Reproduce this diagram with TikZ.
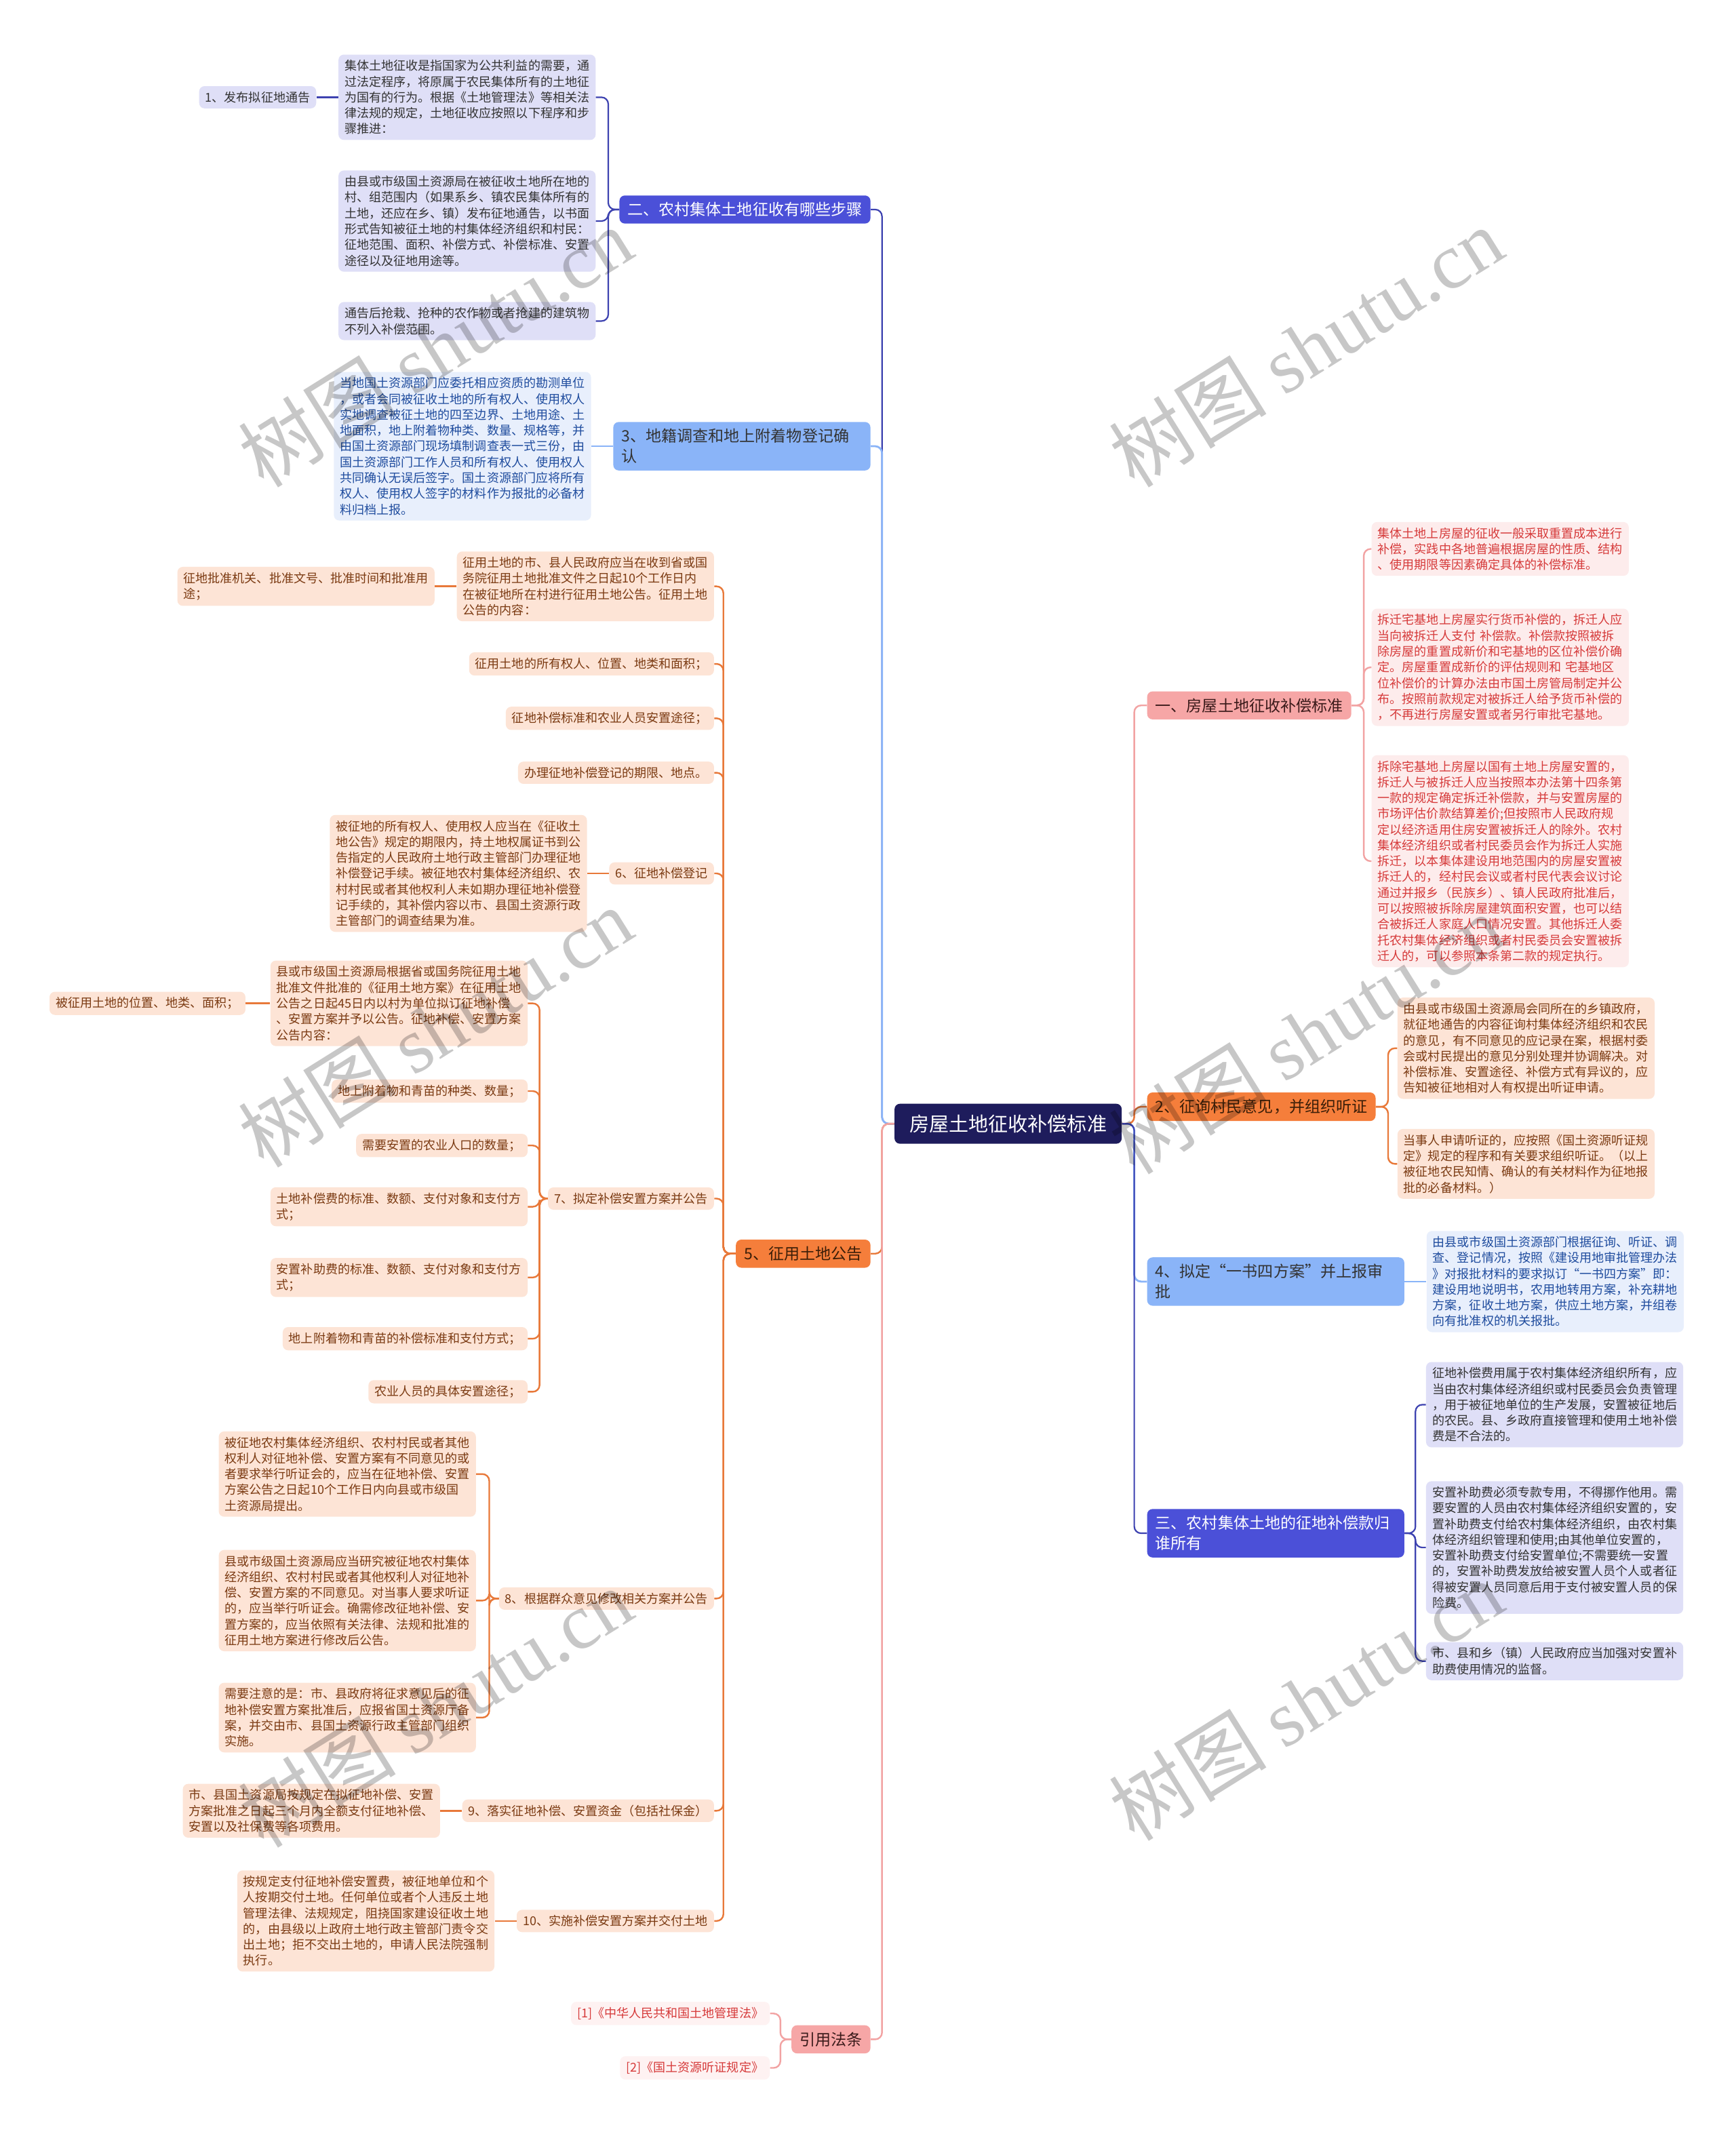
\documentclass[tikz,border=0pt]{standalone}
\usepackage{fontspec}
\setmainfont{Noto Sans CJK SC}
\newfontfamily\wmserif{Liberation Serif}
\usetikzlibrary{positioning}

\definecolor{rootc}{HTML}{1E1C5C}
\definecolor{purplec}{HTML}{4B50D8}
\definecolor{purplelc}{HTML}{3D42B0}
\definecolor{lavfill}{HTML}{DFDFF7}
\definecolor{bluec}{HTML}{8AB4F8}
\definecolor{bluefill}{HTML}{E8EFFC}
\definecolor{bluetext}{HTML}{1F4C9E}
\definecolor{orangec}{HTML}{F57E3B}
\definecolor{orangelc}{HTML}{E8793A}
\definecolor{peachfill}{HTML}{FDE4D6}
\definecolor{browntext}{HTML}{7B3A12}
\definecolor{darkbrown}{HTML}{3B1E08}
\definecolor{pinkc}{HTML}{F6A6A6}
\definecolor{pinklc}{HTML}{F2A3A3}
\definecolor{pinkfill}{HTML}{FDECEC}
\definecolor{redtext}{HTML}{D63A3A}
\definecolor{darkred}{HTML}{3A1A1A}
\definecolor{darktext}{HTML}{333333}

\newcommand{\leafsize}{\fontsize{9pt}{11.6pt}\selectfont}
\newcommand{\branchsize}{\fontsize{11.5pt}{15pt}\selectfont}
\newcommand{\rootsize}{\fontsize{14.5pt}{17pt}\selectfont}
\newcommand{\wmsize}{\fontsize{58pt}{58pt}\selectfont}

\begin{document}
\begin{tikzpicture}[x=1pt,y=-1pt]

\tikzstyle{rootnode}=[rectangle,rounded corners=4pt,fill=rootc,text=white,inner xsep=11pt,inner ysep=8pt,font=\rootsize]
\tikzstyle{topnode}=[rectangle,rounded corners=4pt,inner xsep=6pt,inner ysep=5pt,font=\branchsize,align=left]
\tikzstyle{twoline}=[text width=177pt]
\tikzstyle{purplenode}=[topnode,fill=purplec,text=white]
\tikzstyle{bluenode}=[topnode,fill=bluec,text=darktext]
\tikzstyle{orangenode}=[topnode,fill=orangec,text=darkbrown]
\tikzstyle{pinknode}=[topnode,fill=pinkc,text=darkred]
\tikzstyle{leaf}=[rectangle,rounded corners=4pt,inner xsep=4.5pt,inner ysep=4pt,font=\leafsize,align=left]
\tikzstyle{wideleaf}=[text width=180pt]
\tikzstyle{lavleaf}=[leaf,fill=lavfill,text=darktext]
\tikzstyle{blueleaf}=[leaf,fill=bluefill,text=bluetext]
\tikzstyle{peachleaf}=[leaf,fill=peachfill,text=browntext]
\tikzstyle{pinkleaf}=[leaf,fill=pinkfill,text=redtext]
\tikzstyle{purpleline}=[draw=purplelc,line width=1.1pt,rounded corners=5pt]
\tikzstyle{blueline}=[draw=bluec,line width=1.4pt,rounded corners=5pt]
\tikzstyle{orangeline}=[draw=orangelc,line width=1.2pt,rounded corners=5pt]
\tikzstyle{pinkline}=[draw=pinklc,line width=1.2pt,rounded corners=5pt]
\tikzstyle{wmark}=[rotate=32,text=black,opacity=0.22,font=\wmsize]

\fill[white] (0,0) rectangle (1276,1568.6);
\useasboundingbox (0,0) rectangle (1276,1568.6);

% root
\node [rootnode] (root) at (741,826) {房屋土地征收补偿标准};

% right side
\node [pinknode,anchor=west] (b1) at (843,518.5) {一、房屋土地征收补偿标准};
\node [orangenode,anchor=west] (b2) at (843,813.5) {2、征询村民意见，并组织听证};
\node [bluenode,twoline,anchor=west] (b4) at (843,942) {4、拟定“一书四方案”并上报审\\批};
\node [purplenode,twoline,anchor=west] (b3) at (843,1127) {三、农村集体土地的征地补偿款归\\谁所有};

\node [pinkleaf,wideleaf,anchor=west] (p1) at (1008,403.5) {集体土地上房屋的征收一般采取重置成本进行\\补偿，实践中各地普遍根据房屋的性质、结构\\、使用期限等因素确定具体的补偿标准。};
\node [pinkleaf,wideleaf,anchor=west] (p2) at (1008,490.5) {拆迁宅基地上房屋实行货币补偿的，拆迁人应\\当向被拆迁人支付 补偿款。补偿款按照被拆\\除房屋的重置成新价和宅基地的区位补偿价确\\定。房屋重置成新价的评估规则和 宅基地区\\位补偿价的计算办法由市国土房管局制定并公\\布。按照前款规定对被拆迁人给予货币补偿的\\，不再进行房屋安置或者另行审批宅基地。};
\node [pinkleaf,wideleaf,anchor=west] (p3) at (1008,633) {拆除宅基地上房屋以国有土地上房屋安置的，\\拆迁人与被拆迁人应当按照本办法第十四条第\\一款的规定确定拆迁补偿款，并与安置房屋的\\市场评估价款结算差价;但按照市人民政府规\\定以经济适用住房安置被拆迁人的除外。农村\\集体经济组织或者村民委员会作为拆迁人实施\\拆迁，以本集体建设用地范围内的房屋安置被\\拆迁人的，经村民会议或者村民代表会议讨论\\通过并报乡（民族乡）、镇人民政府批准后，\\可以按照被拆除房屋建筑面积安置，也可以结\\合被拆迁人家庭人口情况安置。其他拆迁人委\\托农村集体经济组织或者村民委员会安置被拆\\迁人的，可以参照本条第二款的规定执行。};

\node [peachleaf,wideleaf,anchor=west] (q1) at (1027,770.5) {由县或市级国土资源局会同所在的乡镇政府，\\就征地通告的内容征询村集体经济组织和农民\\的意见，有不同意见的应记录在案，根据村委\\会或村民提出的意见分别处理并协调解决。对\\补偿标准、安置途径、补偿方式有异议的，应\\告知被征地相对人有权提出听证申请。};
\node [peachleaf,wideleaf,anchor=west] (q2) at (1027,855.5) {当事人申请听证的，应按照《国土资源听证规\\定》规定的程序和有关要求组织听证。（以上\\被征地农民知情、确认的有关材料作为征地报\\批的必备材料。）};

\node [blueleaf,wideleaf,anchor=west] (r1) at ([xshift=16pt]b4.east) {由县或市级国土资源部门根据征询、听证、调\\查、登记情况，按照《建设用地审批管理办法\\》对报批材料的要求拟订“一书四方案”即：\\建设用地说明书，农用地转用方案，补充耕地\\方案，征收土地方案，供应土地方案，并组卷\\向有批准权的机关报批。};

\node [lavleaf,wideleaf,anchor=west] (s1) at (1048,1032.5) {征地补偿费用属于农村集体经济组织所有，应\\当由农村集体经济组织或村民委员会负责管理\\，用于被征地单位的生产发展，安置被征地后\\的农民。县、乡政府直接管理和使用土地补偿\\费是不合法的。};
\node [lavleaf,wideleaf,anchor=west] (s2) at (1048,1137.5) {安置补助费必须专款专用，不得挪作他用。需\\要安置的人员由农村集体经济组织安置的，安\\置补助费支付给农村集体经济组织，由农村集\\体经济组织管理和使用;由其他单位安置的，\\安置补助费支付给安置单位;不需要统一安置\\的，安置补助费发放给被安置人员个人或者征\\得被安置人员同意后用于支付被安置人员的保\\险费。};
\node [lavleaf,wideleaf,anchor=west] (s3) at (1048,1221) {市、县和乡（镇）人民政府应当加强对安置补\\助费使用情况的监督。};

% left side
\node [purplenode,anchor=east] (a2) at (640,154) {二、农村集体土地征收有哪些步骤};
\node [bluenode,twoline,anchor=east] (a3) at (640,328) {3、地籍调查和地上附着物登记确\\认};
\node [orangenode,anchor=east] (a5) at (640,921.5) {5、征用土地公告};
\node [pinknode,anchor=east] (a6) at (640,1499) {引用法条};

\node [lavleaf,wideleaf,anchor=east] (t1) at (438,71.5) {集体土地征收是指国家为公共利益的需要，通\\过法定程序，将原属于农民集体所有的土地征\\为国有的行为。根据《土地管理法》等相关法\\律法规的规定，土地征收应按照以下程序和步\\骤推进：};
\node [lavleaf,anchor=east] (t0) at ([xshift=-16pt]t1.west) {1、发布拟征地通告};
\node [lavleaf,wideleaf,anchor=east] (t2) at (438,162.5) {由县或市级国土资源局在被征收土地所在地的\\村、组范围内（如果系乡、镇农民集体所有的\\土地，还应在乡、镇）发布征地通告，以书面\\形式告知被征土地的村集体经济组织和村民：\\征地范围、面积、补偿方式、补偿标准、安置\\途径以及征地用途等。};
\node [lavleaf,wideleaf,anchor=east] (t3) at (438,236) {通告后抢栽、抢种的农作物或者抢建的建筑物\\不列入补偿范围。};

\node [blueleaf,wideleaf,anchor=east] (u1) at ([xshift=-16pt]a3.west) {当地国土资源部门应委托相应资质的勘测单位\\，或者会同被征收土地的所有权人、使用权人\\实地调查被征土地的四至边界、土地用途、土\\地面积，地上附着物种类、数量、规格等，并\\由国土资源部门现场填制调查表一式三份，由\\国土资源部门工作人员和所有权人、使用权人\\共同确认无误后签字。国土资源部门应将所有\\权人、使用权人签字的材料作为报批的必备材\\料归档上报。};

\node [peachleaf,wideleaf,anchor=east] (v1) at (525,431) {征用土地的市、县人民政府应当在收到省或国\\务院征用土地批准文件之日起10个工作日内\\在被征地所在村进行征用土地公告。征用土地\\公告的内容：};
\node [peachleaf,wideleaf,anchor=east] (v1a) at ([xshift=-16pt]v1.west) {征地批准机关、批准文号、批准时间和批准用\\途；};
\node [peachleaf,anchor=east] (v2) at (525,488) {征用土地的所有权人、位置、地类和面积；};
\node [peachleaf,anchor=east] (v3) at (525,528) {征地补偿标准和农业人员安置途径；};
\node [peachleaf,anchor=east] (v4) at (525,568) {办理征地补偿登记的期限、地点。};
\node [peachleaf,anchor=east] (v6) at (525,642) {6、征地补偿登记};
\node [peachleaf,wideleaf,anchor=east] (v6a) at ([xshift=-16pt]v6.west) {被征地的所有权人、使用权人应当在《征收土\\地公告》规定的期限内，持土地权属证书到公\\告指定的人民政府土地行政主管部门办理征地\\补偿登记手续。被征地农村集体经济组织、农\\村村民或者其他权利人未如期办理征地补偿登\\记手续的，其补偿内容以市、县国土资源行政\\主管部门的调查结果为准。};
\node [peachleaf,anchor=east] (v7) at (525,881) {7、拟定补偿安置方案并公告};
\node [peachleaf,anchor=east] (v8) at (525,1175) {8、根据群众意见修改相关方案并公告};
\node [peachleaf,anchor=east] (v9) at (525,1331) {9、落实征地补偿、安置资金（包括社保金）};
\node [peachleaf,wideleaf,anchor=east] (v9a) at ([xshift=-16pt]v9.west) {市、县国土资源局按规定在拟征地补偿、安置\\方案批准之日起三个月内全额支付征地补偿、\\安置以及社保费等各项费用。};
\node [peachleaf,anchor=east] (v10) at (525,1412) {10、实施补偿安置方案并交付土地};
\node [peachleaf,wideleaf,anchor=east] (v10a) at ([xshift=-16pt]v10.west) {按规定支付征地补偿安置费，被征地单位和个\\人按期交付土地。任何单位或者个人违反土地\\管理法律、法规规定，阻挠国家建设征收土地\\的，由县级以上政府土地行政主管部门责令交\\出土地；拒不交出土地的，申请人民法院强制\\执行。};

\node [peachleaf,wideleaf,anchor=east] (w1) at (388,737.5) {县或市级国土资源局根据省或国务院征用土地\\批准文件批准的《征用土地方案》在征用土地\\公告之日起45日内以村为单位拟订征地补偿\\、安置方案并予以公告。征地补偿、安置方案\\公告内容：};
\node [peachleaf,anchor=east] (w1a) at ([xshift=-18pt]w1.west) {被征用土地的位置、地类、面积；};
\node [peachleaf,anchor=east] (w2) at (388,802) {地上附着物和青苗的种类、数量；};
\node [peachleaf,anchor=east] (w3) at (388,842) {需要安置的农业人口的数量；};
\node [peachleaf,wideleaf,anchor=east] (w4) at (388,887) {土地补偿费的标准、数额、支付对象和支付方\\式；};
\node [peachleaf,wideleaf,anchor=east] (w5) at (388,939) {安置补助费的标准、数额、支付对象和支付方\\式；};
\node [peachleaf,anchor=east] (w6) at (388,984) {地上附着物和青苗的补偿标准和支付方式；};
\node [peachleaf,anchor=east] (w7) at (388,1023) {农业人员的具体安置途径；};

\node [peachleaf,wideleaf,anchor=east] (h1) at (350,1083.5) {被征地农村集体经济组织、农村村民或者其他\\权利人对征地补偿、安置方案有不同意见的或\\者要求举行听证会的，应当在征地补偿、安置\\方案公告之日起10个工作日内向县或市级国\\土资源局提出。};
\node [peachleaf,wideleaf,anchor=east] (h2) at (350,1176.5) {县或市级国土资源局应当研究被征地农村集体\\经济组织、农村村民或者其他权利人对征地补\\偿、安置方案的不同意见。对当事人要求听证\\的，应当举行听证会。确需修改征地补偿、安\\置方案的，应当依照有关法律、法规和批准的\\征用土地方案进行修改后公告。};
\node [peachleaf,wideleaf,anchor=east] (h3) at (350,1262.5) {需要注意的是：市、县政府将征求意见后的征\\地补偿安置方案批准后，应报省国土资源厅备\\案，并交由市、县国土资源行政主管部门组织\\实施。};

\node [pinkleaf,fill=pinkfill!70,anchor=east] (ref1) at (566,1480) {[1]《中华人民共和国土地管理法》};
\node [pinkleaf,fill=pinkfill!70,anchor=east] (ref2) at (566,1520) {[2]《国土资源听证规定》};

% connectors from root
\draw[purpleline] (root.west) -- ++(-9,0) |- (a2.east);
\draw[blueline] (root.west) -- ++(-9,0) |- (a3.east);
\draw[orangeline] (root.west) -- ++(-9,0) |- (a5.east);
\draw[pinkline] (root.west) -- ++(-9,0) |- (a6.east);
\draw[pinkline] (root.east) -- ++(9,0) |- (b1.west);
\draw[orangeline] (root.east) -- ++(9,0) |- (b2.west);
\draw[blueline] (root.east) -- ++(9,0) |- (b4.west);
\draw[purpleline] (root.east) -- ++(9,0) |- (b3.west);

% branch connectors
\foreach \c in {p1,p2,p3} \draw[pinkline] (b1.east) -- ++(9,0) |- (\c.west);
\foreach \c in {q1,q2} \draw[orangeline] (b2.east) -- ++(9,0) |- (\c.west);
\foreach \c in {s1,s2,s3} \draw[purpleline] (b3.east) -- ++(8,0) |- (\c.west);
\draw[blueline] (b4.east) -- (r1.west);

\foreach \c in {t1,t2,t3} \draw[purpleline] (a2.west) -- ++(-8,0) |- (\c.east);
\draw[purpleline] (t1.west) -- (t0.east);
\draw[blueline] (a3.west) -- (u1.east);
\foreach \c in {v1,v2,v3,v4,v6,v7,v8,v9,v10} \draw[orangeline] (a5.west) -- ++(-9,0) |- (\c.east);
\draw[orangeline] (v1.west) -- (v1a.east);
\draw[orangeline] (v6.west) -- (v6a.east);
\draw[orangeline] (v9.west) -- (v9a.east);
\draw[orangeline] (v10.west) -- (v10a.east);
\foreach \c in {w1,w2,w3,w4,w5,w6,w7} \draw[orangeline] (v7.west) -- ++(-6,0) |- (\c.east);
\draw[orangeline] (w1.west) -- (w1a.east);
\foreach \c in {h1,h2,h3} \draw[orangeline] (v8.west) -- ++(-7,0) |- (\c.east);
\foreach \c in {ref1,ref2} \draw[pinkline] (a6.west) -- ++(-8,0) |- (\c.east);

% watermarks
\foreach \wx/\wy [count=\i] in {320/255,960/255,320/755,960/760,320/1255,960/1250}
  \node[wmark] (wm\i) at (\wx,\wy) {树图 {\wmserif shutu.cn}};

\end{tikzpicture}
\end{document}
